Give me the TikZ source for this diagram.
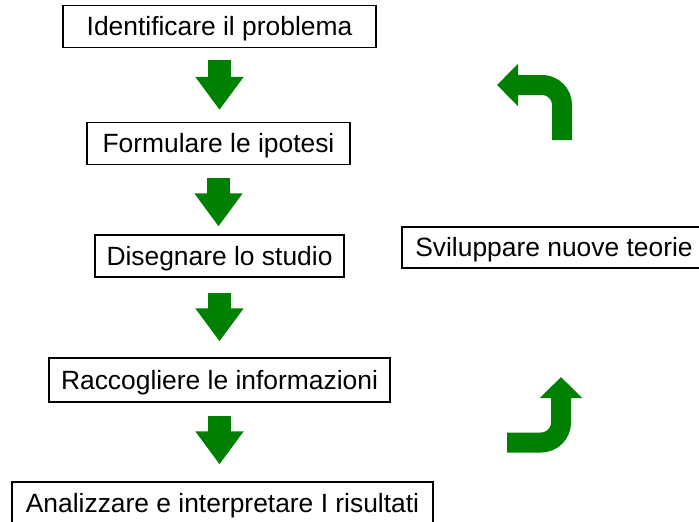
\documentclass[tikz,border=0pt]{standalone}
\usepackage{fontspec}
\setmainfont{Liberation Sans}
\usetikzlibrary{positioning, arrows.meta}

\definecolor{arrowgreen}{RGB}{0,128,0}

\tikzset{
    stepbox/.style={
        draw,
        rectangle,
        line width=1.2pt,
        inner sep=0pt,
        minimum height=42pt,
        text height=19pt,
        text depth=1pt,
        font=\fontsize{26.4}{30}\selectfont
    },
    downarrow/.style={arrowgreen, line width=23pt, -{Triangle[length=33pt, width=46pt]}},
    turnarrow/.style={arrowgreen, line width=20pt, rounded corners=20pt, -{Triangle[length=21pt, width=41pt]}}
}

\begin{document}
\begin{tikzpicture}[x=1pt, y=-1pt]
    \useasboundingbox (0,0) rectangle (699,522);

    % the steps
    \node[stepbox, minimum width=313pt] (problema) at (219.5,26.5) {Identificare il problema};
    \node[stepbox, minimum width=263pt] (ipotesi) at (218.5,143.5) {Formulare le ipotesi};
    \node[stepbox, minimum width=249pt] (studio) at (219.5,256) {Disegnare lo studio};
    \node[stepbox, minimum width=341pt, minimum height=44pt] (informazioni) at (219.5,380) {Raccogliere le informazioni};
    \node[stepbox, minimum width=421pt] (risultati) at (222.5,503) {Analizzare e interpretare I risultati};
    \node[stepbox, minimum width=304pt, minimum height=41pt] (teorie) at (554,247.5) {Sviluppare nuove teorie};

    % down arrows
    \draw[downarrow, shorten <=12pt, shorten >=12pt] (problema.south) -- (problema.south |- ipotesi.north);
    \draw[downarrow, shorten <=13pt, shorten >=8pt] (ipotesi.south) -- (ipotesi.south |- studio.north);
    \draw[downarrow, shorten <=15pt, shorten >=16pt] (studio.south) -- (studio.south |- informazioni.north);
    \draw[downarrow, shorten <=13pt, shorten >=17pt] (informazioni.south) -- (informazioni.south |- risultati.north);

    % turning arrows
    \coordinate (tailtop) at (562,140);
    \coordinate (tiptop) at (497,85);
    \draw[turnarrow] (tailtop) |- (tiptop);
    \coordinate (tailbottom) at (507,442.5);
    \coordinate (tipbottom) at (561,377);
    \draw[turnarrow] (tailbottom) -| (tipbottom);
\end{tikzpicture}
\end{document}
